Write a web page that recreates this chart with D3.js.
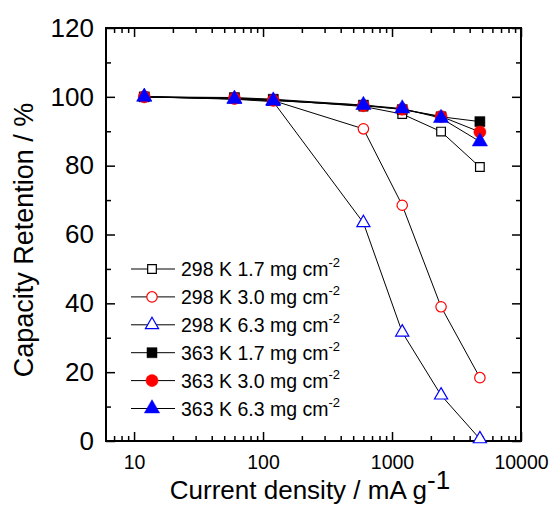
<!DOCTYPE html>
<html>
<head>
<meta charset="utf-8">
<script src="https://cdn.jsdelivr.net/npm/d3@7"></script>
<style>
  body { margin: 0; background: #fff; }
  svg { font-family: "Liberation Sans", Arial, sans-serif; }
  .tick line { stroke: #000; stroke-width: 1.5; }
  .domain { display: none; }
</style>
</head>
<body>
<script>
// current density (mA g-1) and capacity retention (%)
var currents = [12, 60, 120, 600, 1200, 2400, 4800];
var k298_17 = [100, 99.6, 99.2, 97.2, 95.0, 89.9, 79.6];
var k298_30 = [100, 99.4, 98.9, 90.7, 68.5, 39.0, 18.4];
var k298_63 = [100, 99.3, 98.6, 63.4, 31.6, 13.3, 0.6];
var k363_17 = [100, 99.8, 99.3, 97.6, 96.3, 94.2, 92.8];
var k363_30 = [100, 99.6, 99.0, 97.4, 96.4, 94.3, 89.8];
var k363_63 = [100, 99.4, 98.9, 97.6, 96.6, 93.8, 87.0];

var labels = ["298 K 1.7 mg cm", "298 K 3.0 mg cm", "298 K 6.3 mg cm",
              "363 K 1.7 mg cm", "363 K 3.0 mg cm", "363 K 6.3 mg cm"];
var xMajor = [10, 100, 1000, 10000];
var yMajor = [0, 20, 40, 60, 80, 100, 120];

var series = [
    {name: labels[0], values: k298_17, shape: d3.symbolSquare, color: "#000", filled: false},
    {name: labels[1], values: k298_30, shape: d3.symbolCircle, color: "#ff0000", filled: false},
    {name: labels[2], values: k298_63, shape: d3.symbolTriangle, color: "#0000ff", filled: false},
    {name: labels[3], values: k363_17, shape: d3.symbolSquare, color: "#000", filled: true},
    {name: labels[4], values: k363_30, shape: d3.symbolCircle, color: "#ff0000", filled: true},
    {name: labels[5], values: k363_63, shape: d3.symbolTriangle, color: "#0000ff", filled: true}
];

var width = 555, height = 509;
var pLeft = 106, pRight = 521, pTop = 28, pBottom = 441;

var svg = d3.select("body").append("svg")
    .attr("width", width)
    .attr("height", height);

var x = d3.scaleLog().domain([6.06, 10000]).range([pLeft, pRight]);
var y = d3.scaleLinear().domain([0, 120]).range([pBottom, pTop]);

// minor ticks 2..9 in each decade
var xMinor = [];
[1, 10, 100, 1000].forEach(function(d) {
    for (var i = 2; i <= 9; i++) {
        if (d * i >= 6.06) xMinor.push(d * i);
    }
});
var yMinor = d3.range(10, 120, 20);

function sizeOf(shape) {
    if (shape === d3.symbolSquare) return 75;
    if (shape === d3.symbolCircle) return 85;
    return 75;
}

// axes: ticks point inward on all four sides
svg.append("g").attr("transform", "translate(0," + pBottom + ")")
    .call(d3.axisBottom(x).tickValues(xMajor).tickSize(-9).tickPadding(14).tickFormat(d3.format("d")))
    .selectAll("text").attr("font-size", 19.5).attr("fill", "#000");
svg.append("g").attr("transform", "translate(0," + pBottom + ")")
    .call(d3.axisBottom(x).tickValues(xMinor).tickSize(-5).tickFormat(""));
svg.append("g").attr("transform", "translate(0," + pTop + ")")
    .call(d3.axisTop(x).tickValues(xMajor).tickSize(-9).tickFormat(""));
svg.append("g").attr("transform", "translate(0," + pTop + ")")
    .call(d3.axisTop(x).tickValues(xMinor).tickSize(-5).tickFormat(""));

svg.append("g").attr("transform", "translate(" + pLeft + ",0)")
    .call(d3.axisLeft(y).tickValues(yMajor).tickSize(-9).tickPadding(12))
    .selectAll("text").attr("font-size", 26).attr("fill", "#000");
svg.append("g").attr("transform", "translate(" + pLeft + ",0)")
    .call(d3.axisLeft(y).tickValues(yMinor).tickSize(-5).tickFormat(""));
svg.append("g").attr("transform", "translate(" + pRight + ",0)")
    .call(d3.axisRight(y).tickValues(yMajor).tickSize(-9).tickFormat(""));
svg.append("g").attr("transform", "translate(" + pRight + ",0)")
    .call(d3.axisRight(y).tickValues(yMinor).tickSize(-5).tickFormat(""));

// let the tick labels use the page font
svg.selectAll("g").attr("font-family", null);

// frame
svg.append("rect")
    .attr("x", pLeft).attr("y", pTop)
    .attr("width", pRight - pLeft).attr("height", pBottom - pTop)
    .attr("fill", "none").attr("stroke", "#000").attr("stroke-width", 2);

// lines
var line = d3.line()
    .x(function(d, i) { return x(currents[i]); })
    .y(function(d) { return y(d); });

series.forEach(function(s) {
    svg.append("path")
        .datum(s.values)
        .attr("d", line)
        .attr("fill", "none")
        .attr("stroke", "#000")
        .attr("stroke-width", 1);
});

// markers
series.forEach(function(s) {
    svg.selectAll(null)
        .data(s.values)
        .enter()
        .append("path")
        .attr("transform", function(d, i) { return "translate(" + x(currents[i]) + "," + y(d) + ")"; })
        .attr("d", d3.symbol().type(s.shape).size(sizeOf(s.shape) * (s.filled ? 1.35 : 1)))
        .attr("fill", s.filled ? s.color : "#fff")
        .attr("stroke", s.color)
        .attr("stroke-width", s.filled ? 0.5 : 1.2);
});

// legend
var legend = svg.append("g");
series.forEach(function(s, i) {
    var ly = 269 + i * 27.9;
    legend.append("line")
        .attr("x1", 131).attr("x2", 175)
        .attr("y1", ly).attr("y2", ly)
        .attr("stroke", "#000").attr("stroke-width", 1);
    legend.append("path")
        .attr("transform", "translate(152," + ly + ")")
        .attr("d", d3.symbol().type(s.shape).size(sizeOf(s.shape) * (s.filled ? 1.35 : 1)))
        .attr("fill", s.filled ? s.color : "#fff")
        .attr("stroke", s.color)
        .attr("stroke-width", s.filled ? 0.5 : 1.2);
    var t = legend.append("text")
        .attr("x", 181).attr("y", ly + 7)
        .attr("font-size", 19.5);
    t.append("tspan").text(s.name);
    t.append("tspan").attr("dy", -9).attr("font-size", 13).text("-2");
});

// axis titles
var xt = svg.append("text")
    .attr("x", 310).attr("y", 499)
    .attr("text-anchor", "middle")
    .attr("font-size", 26);
xt.append("tspan").text("Current density / mA g");
xt.append("tspan").attr("dy", -10).text("-1");

svg.append("text")
    .attr("transform", "translate(33,240) rotate(-90)")
    .attr("text-anchor", "middle")
    .attr("font-size", 27)
    .text("Capacity Retention / %");
</script>
</body>
</html>
